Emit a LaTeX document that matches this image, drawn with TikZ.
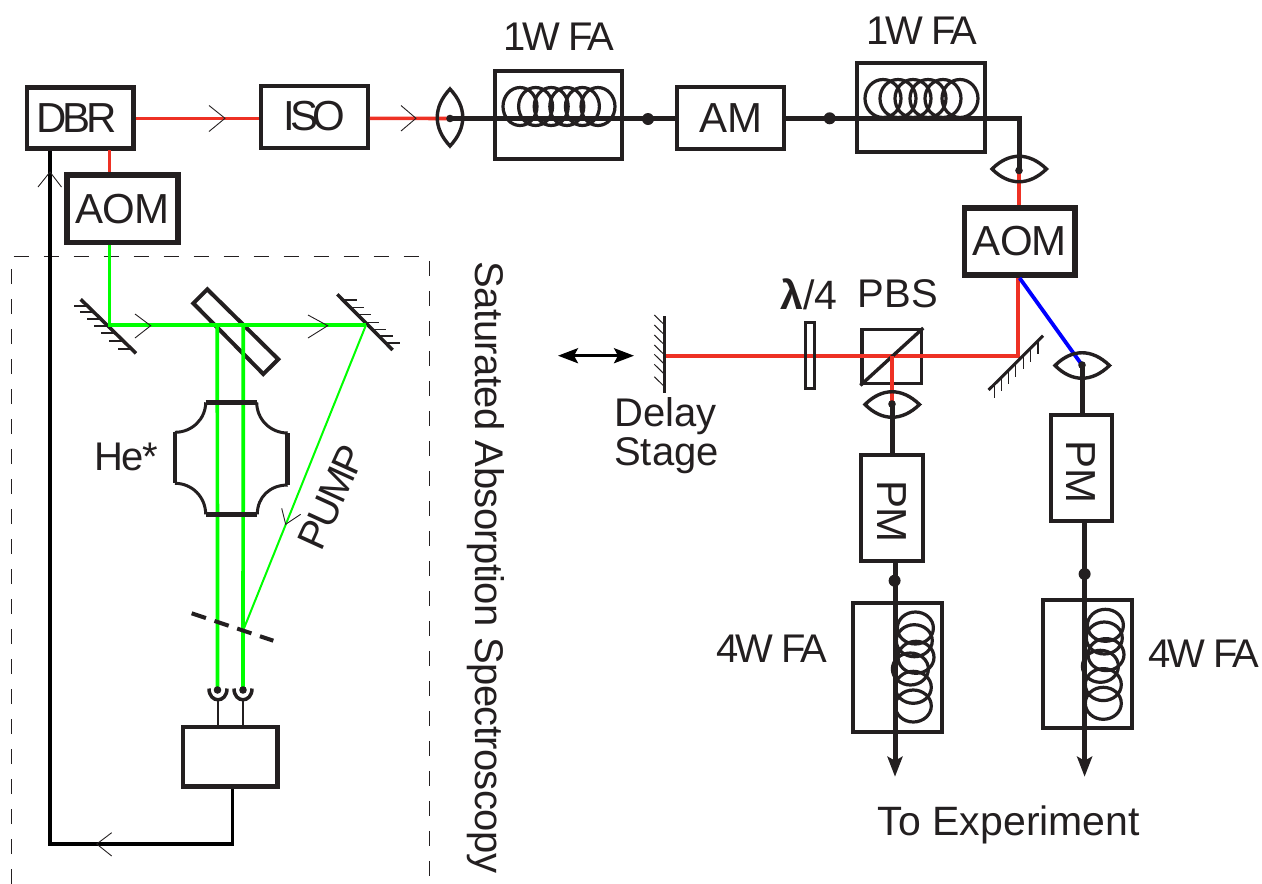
\documentclass[tikz,border=0pt]{standalone}
\usepackage{fontspec}
\setmainfont{Liberation Sans}
\usetikzlibrary{arrows.meta}
\definecolor{ink}{HTML}{231F20}
\definecolor{redbeam}{HTML}{EE3124}
\definecolor{greenbeam}{HTML}{00FF00}
\definecolor{bluebeam}{HTML}{0000FF}
\newcommand\sz[2]{\fontsize{#1}{#1}\selectfont\addfontfeature{LetterSpace=#2}}
\tikzset{
  box/.style={draw=ink,rectangle,inner sep=0pt,line width=4pt,text=ink},
  thick box/.style={box,line width=5.5pt},
  lab/.style={inner sep=0pt,text=ink,anchor=base},
  red ray/.style={draw=redbeam,line width=3.6pt},
  green ray/.style={draw=greenbeam,line width=3.7pt},
  blue ray/.style={draw=bluebeam,line width=3.8pt},
  fibre/.style={draw=ink,line width=5pt},
  wire/.style={draw=black,line width=3.5pt},
  chevron/.style={draw=ink,line width=0.9pt},
  lens/.style={draw=ink,line width=3.4pt},
  coil/.style={draw=ink,line width=3.2pt},
  mirror/.style={draw=ink,line width=3.5pt},
  tick/.style={draw=ink,line width=1.8pt},
  fine tick/.style={draw=ink,line width=1pt},
  dot/.style={fill=ink,draw=none}
}
\begin{document}
\begin{tikzpicture}[x=1pt,y=-1pt]
\useasboundingbox (0,0) rectangle (1262,884);

% boxes
\node[box,line width=4.5pt,minimum width=106.5pt,minimum height=61pt,font=\sz{42}{-10}] (dbr) at (80.2,118) {DBR\kern8pt};
\node[box,minimum width=106.5pt,minimum height=62pt,font=\sz{42}{-13}] (iso) at (314.7,116.5) {ISO};
\node[thick box,minimum width=111pt,minimum height=67.5pt,font=\sz{42}{-2}] (aomA) at (122.5,208.7) {AOM};
\node[box,minimum width=127pt,minimum height=88.5pt] (faA) at (558.7,115) {};
\node[box,minimum width=106.5pt,minimum height=62pt,font=\sz{42}{-1}] (am) at (730.7,118) {AM};
\node[box,minimum width=128pt,minimum height=89pt] (faB) at (921.2,107.8) {};
\node[thick box,minimum width=110.5pt,minimum height=67pt,font=\sz{42}{-2}] (aomB) at (1019.8,241.5) {AOM};
\node[box,line width=3.4pt,minimum width=59.5pt,minimum height=54pt] (pbs) at (891.8,356.7) {};
\node[box,minimum width=62.5pt,minimum height=106pt] (pmA) at (891.8,507.5) {\rotatebox{-90}{\sz{42}{-1}\hspace{8pt}PM}};
\node[box,minimum width=61.5pt,minimum height=106pt] (pmB) at (1081.3,468) {\rotatebox{-90}{\sz{42}{-1}\hspace{8pt}PM}};
\node[box,minimum width=89pt,minimum height=129pt] (faC) at (897.8,667.2) {};
\node[box,minimum width=89pt,minimum height=128pt] (faD) at (1087.8,664.2) {};
\node[box,line width=4.5pt,minimum width=94.5pt,minimum height=59.5pt] (servo) at (230,756.5) {};

% labels
\node[lab,font=\sz{40}{-8}] (tA) at (559,50.7) {1W FA};
\node[lab,font=\sz{40}{-8}] (tB) at (922,44) {1W FA};
\node[lab,font=\sz{41}{0}] (tC) at (809,309.3) {\textbf{λ}/4};
\node[lab,font=\sz{40}{0}] (tD) at (898,307.7) {PBS};
\node[lab,anchor=base west,font=\sz{40}{0}] (tE) at (614,426.7) {Delay};
\node[lab,anchor=base west,font=\sz{40}{0}] (tF) at (614,465) {Stage};
\node[lab,font=\sz{40}{-4}] (tG) at (126,470) {He*};
\node[lab,font=\sz{40}{-5},rotate=65.5] (tH) at (344,503) {PUMP};
\node[lab,font=\sz{40}{-8}] (tI) at (772,662.7) {4W FA};
\node[lab,font=\sz{40}{-8}] (tJ) at (1204,667.3) {4W FA};
\node[lab,font=\sz{41}{0}] (tK) at (1009,835) {To Experiment};
\node[lab,font=\sz{40}{-1.5},rotate=-90] (tL) at (475,567.5) {Saturated Absorption Spectroscopy};

% named points
\coordinate (lensA) at (450,118.5);
\coordinate (lensB) at (1019,170.5);
\coordinate (lensC) at (892,404);
\coordinate (lensD) at (1082,365);
\coordinate (splitA) at (648,119);
\coordinate (splitB) at (829.7,118.3);
\coordinate (splitC) at (894.6,580.7);
\coordinate (splitD) at (1084.6,574);
\coordinate (corner) at (1019,118.3);
\coordinate (foldB) at (1018,356);
\coordinate (stage) at (664.3,356);
\coordinate (pbsC) at (892,356);
\coordinate (tapA) at (109.4,150);
\coordinate (foldA) at (109.4,325);
\coordinate (mirC) at (366,325);
\coordinate (beamL) at (217.3,325);
\coordinate (beamR) at (243.3,325);
\coordinate (detL) at (217.5,690);
\coordinate (detR) at (243,690);
\coordinate (wireL) at (50,150);
\coordinate (wireB) at (50,844);
\coordinate (wireR) at (232.3,844);
\coordinate (endC) at (895,776.7);
\coordinate (endD) at (1084.6,776.7);
\coordinate (pumpEnd) at (243.3,630);
\coordinate (rayY) at (0,118.3);

% dashed enclosure
\draw[draw=ink,line width=0.9pt,dash pattern=on 15pt off 15pt] (11,884) -- (11,256.7) -- (429.5,256.7) -- (429.5,884);

% optics behind the rays
\draw[box] (207.3,289.3) -- (278.3,359.3) -- (263.3,374) -- (193.3,303.3) -- cycle;
\draw[mirror] (80.7,299.3) -- (136,353.3);
\foreach \y/\x in {305.7/87,311.7/93,319/100,325.7/107,333.3/114.5,340.7/122,349/131.5}
  \draw[tick] (\x,\y) -- ++(-13.5,0);
\draw[mirror] (337.3,294.3) -- (392.7,350);
\foreach \y/\x in {300/343,307.5/350.5,314.5/357.5,322.5/365.5,329.5/372.5,336/379,343/386}
  \draw[tick] (\x,\y) -- ++(13.5,0);

% beams
\draw[red ray] (dbr.east |- rayY) -- (iso.west |- rayY);
\draw[red ray] (iso.east |- rayY) -- (lensA);
\draw[red ray] (tapA) -- (aomA.north -| tapA);
\draw[red ray] (lensB) -- (aomB.north -| lensB);
\draw[red ray] (aomB.south -| foldB) -- (foldB) -- (stage);
\draw[blue ray] (1019.6,278) -- (lensD);
\draw[green ray] (aomA.south -| foldA) -- (foldA) -- (mirC);
\draw[green ray] (beamL) -- (detL);
\draw[green ray] (beamR) -- (detR);
\draw[draw=greenbeam,line width=2pt] (mirC) -- (pumpEnd);

% plate and cube diagonal over the red beam
\node[box,line width=3pt,minimum width=9pt,minimum height=66pt] (wp) at (810.3,355.8) {};
\draw[box,line width=3.4pt] (pbs.north east) -- (pbs.south west);
\draw[red ray] (pbsC) -- (lensC);

% fibres
\draw[fibre] (lensA) -- (am.west |- lensA);
\draw[fibre] (am.east |- splitB) -- (corner) -- (lensB);
\draw[fibre] (lensC) -- (pmA.north -| lensC);
\draw[fibre] (lensD) -- (pmB.north -| lensD);
\draw[fibre,-{Stealth[length=20pt,width=15pt,inset=4pt]}] (pmA.south -| endC) -- (endC);
\draw[fibre,-{Stealth[length=20pt,width=15pt,inset=4pt]}] (pmB.south -| endD) -- (endD);

% splice dots
\foreach \p in {splitA,splitB,splitC,splitD} \fill[dot] (\p) circle[radius=6pt];
\foreach \p in {lensA,lensB,lensC,lensD,detL,detR} \fill[dot] (\p) circle[radius=3.8pt];

% lenses
\draw[lens] (450,89) .. controls (433,107) and (433,128) .. (450,146) .. controls (467,128) and (467,107) .. (450,89) -- cycle;
\draw[lens] (992,169) .. controls (1009,152) and (1029,152) .. (1046.5,169) .. controls (1029,186) and (1009,186) .. (992,169) -- cycle;
\draw[lens] (865,404.5) .. controls (882,387.5) and (902,387.5) .. (919.5,404.5) .. controls (902,421.5) and (882,421.5) .. (865,404.5) -- cycle;
\draw[lens] (1055,365.5) .. controls (1072,348.5) and (1092,348.5) .. (1109.5,365.5) .. controls (1092,382.5) and (1072,382.5) .. (1055,365.5) -- cycle;

% coils
\foreach \c in {520,535.6,551.2,566.8,582.4,598}
  \draw[coil] (\c,106.5) circle[x radius=17pt,y radius=19pt];
\foreach \c in {883,898,913,928,943,960}
  \draw[coil] (\c,98.5) circle[x radius=18pt,y radius=19pt];
\foreach \a/\b in {915.4/628,914.3/640.7,916/657.3,910.4/669,913.3/687.3,913.3/706}
  \draw[coil] (\a,\b) circle[x radius=18pt,y radius=16pt];
\foreach \a/\b in {1105.4/625.3,1104.3/638,1106/654.6,1100.4/666.3,1103.3/684.6,1103.3/703.3}
  \draw[coil] (\a,\b) circle[x radius=18pt,y radius=16pt];

% fold and stage mirrors
\draw[mirror,line width=3pt] (1043,335.7) -- (988.6,390);
\foreach \x/\y in {1038/341,1030.5/348.5,1023.5/355.5,1015.5/363.5,1008.5/370.5,1001.5/377.5,994.5/384.5}
  \draw[tick] (\x,\y) -- ++(0,13);
\draw[mirror,line width=3pt] (stage |- 0,316) -- (stage |- 0,393.3);
\foreach \y in {315,325,335,345,354.3,364.3,376.7}
  \draw[fine tick] (654.3,\y) -- ++(9.2,9);
\draw[draw=black,line width=2.8pt,{Stealth[length=20pt,width=15pt,inset=4pt]}-{Stealth[length=20pt,width=15pt,inset=4pt]}] (558,355.7) -- (634,355.7);

% He cell
\draw[draw=ink,line width=4.5pt] (205.7,402.3) -- (256.7,402.3);
\draw[draw=ink,line width=4.5pt] (205.7,514.3) -- (257.3,514.3);
\draw[draw=ink,line width=4.5pt] (175,432.3) -- (175,483.3);
\draw[draw=ink,line width=4.5pt] (287.7,433) -- (287.7,485);
\draw[draw=ink,line width=3pt] (205.7,402.3) .. controls (205.7,419) and (192,432.3) .. (175,432.3);
\draw[draw=ink,line width=3pt] (256.7,402.3) .. controls (256.7,419) and (270,433) .. (287.7,433);
\draw[draw=ink,line width=3pt] (205.7,514.3) .. controls (205.7,497) and (192,483.3) .. (175,483.3);
\draw[draw=ink,line width=3pt] (257.3,514.3) .. controls (257.3,497) and (270,485) .. (287.7,485);

% screen
\draw[draw=ink,line width=4pt,dash pattern=on 15pt off 9pt] (191.7,613.3) -- (273.3,640.7);

% detectors
\draw[draw=ink,line width=3.5pt] (209,688.5) .. controls (209,703.5) and (227,703.5) .. (227,688.5);
\draw[draw=ink,line width=3.5pt] (234,688.5) .. controls (234,703.5) and (252,703.5) .. (252,688.5);
\draw[draw=ink,line width=2.5pt] (217.8,700) -- (servo.north -| 217.8,0);
\draw[draw=ink,line width=2.5pt] (243,700) -- (servo.north -| 243,0);

% feedback
\draw[wire] (dbr.south -| wireL) -- (wireB) -- (wireR) -- (servo.south -| wireR);

% chevrons
\draw[chevron] (209,105.5) -- (225,118.3) -- (209,131.5);
\draw[chevron] (401,105.5) -- (416,118.3) -- (401,131);
\draw[chevron] (38,187) -- (50,172) -- (61.5,187);
\draw[chevron] (135,314) -- (150.7,325.7) -- (135,338);
\draw[chevron] (308,315) -- (327.7,325.7) -- (308,338);
\draw[chevron] (281.7,508.3) -- (285.7,524.3) -- (300.7,514.3);
\draw[chevron] (111.7,832.7) -- (96.7,844) -- (111.7,856);
\end{tikzpicture}
\end{document}
